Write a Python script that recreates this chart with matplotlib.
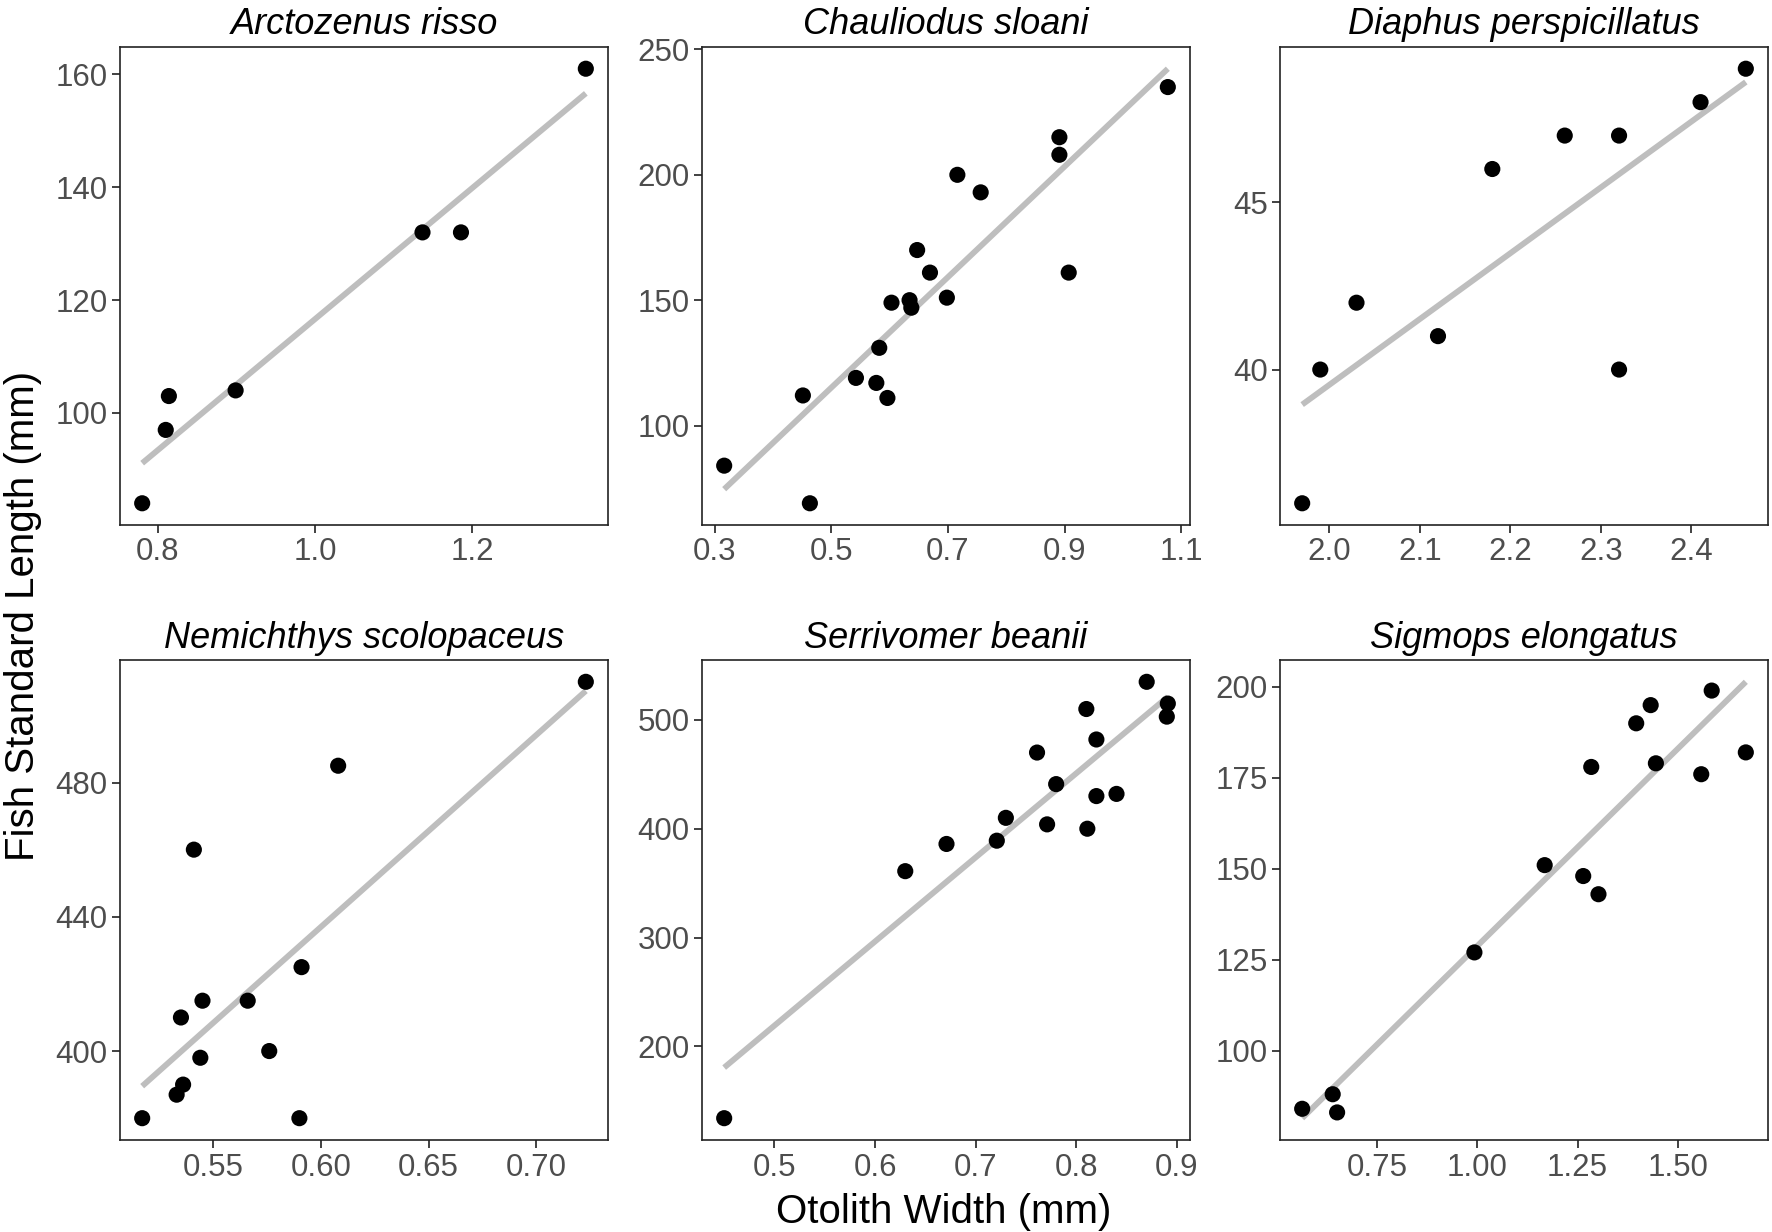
import numpy as np
import matplotlib
matplotlib.use("Agg")
import matplotlib.pyplot as plt

plt.rcParams['font.family'] = ['Liberation Sans', 'DejaVu Sans']

# ---- data ----
species = ["Arctozenus risso", "Chauliodus sloani", "Diaphus perspicillatus",
           "Nemichthys scolopaceus", "Serrivomer beanii", "Sigmops elongatus"]

arctozenus_x = [0.78, 0.81, 0.814, 0.899, 1.137, 1.186, 1.345]
arctozenus_y = [84, 97, 103, 104, 132, 132, 161]

chauliodus_x = [0.316, 0.451, 0.463, 0.542, 0.577, 0.582, 0.596, 0.603, 0.634,
                0.637, 0.647, 0.669, 0.698, 0.716, 0.756, 0.891, 0.891, 0.907, 1.077]
chauliodus_y = [84, 112, 69, 119, 117, 131, 111, 149, 150,
                147, 170, 161, 151, 200, 193, 215, 208, 161, 235]

diaphus_x = [1.97, 1.99, 2.03, 2.12, 2.18, 2.26, 2.32, 2.32, 2.41, 2.46]
diaphus_y = [36, 40, 42, 41, 46, 47, 47, 40, 48, 49]

nemichthys_x = [0.517, 0.533, 0.536, 0.535, 0.544, 0.545, 0.541, 0.566, 0.576,
                0.590, 0.591, 0.608, 0.723]
nemichthys_y = [380, 387, 390, 410, 398, 415, 460, 415, 400, 380, 425, 485, 510]

serrivomer_x = [0.450, 0.630, 0.671, 0.721, 0.730, 0.761, 0.771, 0.780, 0.810,
                0.811, 0.820, 0.820, 0.840, 0.870, 0.891, 0.890]
serrivomer_y = [134, 361, 386, 389, 410, 470, 404, 441, 510, 400, 482, 430, 432,
                535, 515, 503]

sigmops_x = [0.564, 0.640, 0.651, 0.993, 1.168, 1.264, 1.302, 1.284, 1.396, 1.432,
             1.445, 1.558, 1.584, 1.669]
sigmops_y = [84, 88, 83, 127, 151, 148, 143, 178, 190, 195, 179, 176, 199, 182]

x_data = [arctozenus_x, chauliodus_x, diaphus_x, nemichthys_x, serrivomer_x, sigmops_x]
y_data = [arctozenus_y, chauliodus_y, diaphus_y, nemichthys_y, serrivomer_y, sigmops_y]

x_ticks = [[0.8, 1.0, 1.2], [0.3, 0.5, 0.7, 0.9, 1.1], [2.0, 2.1, 2.2, 2.3, 2.4],
           [0.55, 0.60, 0.65, 0.70], [0.5, 0.6, 0.7, 0.8, 0.9], [0.75, 1.00, 1.25, 1.50]]
x_ticklabels = [["0.8", "1.0", "1.2"], ["0.3", "0.5", "0.7", "0.9", "1.1"],
                ["2.0", "2.1", "2.2", "2.3", "2.4"], ["0.55", "0.60", "0.65", "0.70"],
                ["0.5", "0.6", "0.7", "0.8", "0.9"], ["0.75", "1.00", "1.25", "1.50"]]
y_ticks = [[100, 120, 140, 160], [100, 150, 200, 250], [40, 45],
           [400, 440, 480], [200, 300, 400, 500], [100, 125, 150, 175, 200]]

x_label = "Otolith Width (mm)"
y_label = "Fish Standard Length (mm)"

# ---- figure ----
fig = plt.figure(figsize=(17.72, 12.32), dpi=100)

W, H = 1772.0, 1232.0
col_left = [120, 702, 1280]
pan_w = 488
row_top = [47, 660]
pan_h = [478, 480]

for i in range(6):
    r, c = divmod(i, 3)
    left = col_left[c] / W
    bottom = 1 - (row_top[r] + pan_h[r]) / H
    ax = fig.add_axes([left, bottom, pan_w / W, pan_h[r] / H])

    x = np.array(x_data[i], dtype=float)
    y = np.array(y_data[i], dtype=float)
    slope, intercept = np.polyfit(x, y, 1)
    xl = np.array([x.min(), x.max()])
    yl = slope * xl + intercept

    ax.plot(xl, yl, color="#BEBEBE", lw=4.2, solid_capstyle="butt", zorder=2)
    ax.scatter(x, y, s=135, color="black", edgecolors="none", zorder=3)

    xmin, xmax = x.min(), x.max()
    ymin, ymax = min(y.min(), yl.min()), max(y.max(), yl.max())
    dx, dy = (xmax - xmin) * 0.05, (ymax - ymin) * 0.05
    ax.set_xlim(xmin - dx, xmax + dx)
    ax.set_ylim(ymin - dy, ymax + dy)

    ax.set_xticks(x_ticks[i])
    ax.set_xticklabels(x_ticklabels[i])
    ax.set_yticks(y_ticks[i])
    ax.tick_params(axis="both", direction="out", length=6, width=1.3,
                   color="#333333", labelsize=22.5, labelcolor="#4D4D4D", pad=3)
    for sp in ax.spines.values():
        sp.set_color("#222222")
        sp.set_linewidth(1.2)

    ax.set_title(species[i], fontsize=26, fontstyle="italic", color="black", pad=9)

fig.text(0.013, 0.5, y_label, rotation=90, ha="center", va="center", fontsize=29)
fig.text((120 + 1768) / 2 / W, 0.016, x_label, ha="center", va="center", fontsize=29)

fig.savefig("out.png", dpi=100, facecolor="white")
